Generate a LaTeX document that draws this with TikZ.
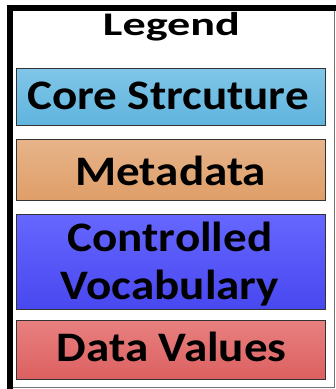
\documentclass[tikz,border=0pt]{standalone}
\usepackage{fontspec}
\setmainfont{Carlito}
\usetikzlibrary{positioning}

\definecolor{coretop}{RGB}{128,198,232}
\definecolor{corebot}{RGB}{96,180,222}
\definecolor{metatop}{RGB}{232,180,138}
\definecolor{metabot}{RGB}{222,158,104}
\definecolor{vocabtop}{RGB}{102,102,255}
\definecolor{vocabbot}{RGB}{72,72,240}
\definecolor{valtop}{RGB}{232,128,128}
\definecolor{valbot}{RGB}{220,96,96}

% the lettering is set a little wide
\newcommand{\wide}[1]{\scalebox{1.12}[1]{#1}}

\tikzset{
  keybox/.style={draw=black!80, line width=0.9pt, minimum width=309pt,
    inner sep=0pt, outer sep=0pt},
  keytext/.style={font=\bfseries\fontsize{42}{47.6}\selectfont, align=center,
    inner sep=0pt, anchor=base},
}

\begin{document}
\begin{tikzpicture}[x=1pt,y=-1pt]
  \useasboundingbox (0,0) rectangle (336,389);
  % frame round the legend
  \draw[line width=5.8pt] (9.7,389) -- (9.7,8.2) -- (336,8.2);
  \draw[black!55, line width=1pt] (334.7,11) -- (334.7,387.2) -- (12.6,387.2);
  \node[font=\bfseries\fontsize{33}{38}\selectfont, inner sep=0pt, anchor=base]
    (title) at (171.5,35.7) {\scalebox{1.4}[1]{Legend}};

  % coloured keys
  \node[keybox, minimum height=57pt, top color=coretop, bottom color=corebot]
    (core) at (171.3,96.5) {};
  \node[keybox, minimum height=61.4pt, top color=metatop, bottom color=metabot]
    (meta) at (171.3,170) {};
  \node[keybox, minimum height=94.7pt, top color=vocabtop, bottom color=vocabbot]
    (vocab) at (171.3,261.7) {};
  \node[keybox, minimum height=58.7pt, top color=valtop, bottom color=valbot]
    (vals) at (171.3,349.7) {};

  \node[keytext] (coretext) at (168,109.5) {\wide{Core Strcuture}};
  \node[keytext] (metatext) at (170.8,185) {\wide{Metadata}};
  \node[keytext] (vocabtext) at (170,299.3) {\wide{Controlled}\\\wide{Vocabulary}};
  \node[keytext] (valstext) at (171.7,361.7) {\wide{Data Values}};
\end{tikzpicture}
\end{document}
